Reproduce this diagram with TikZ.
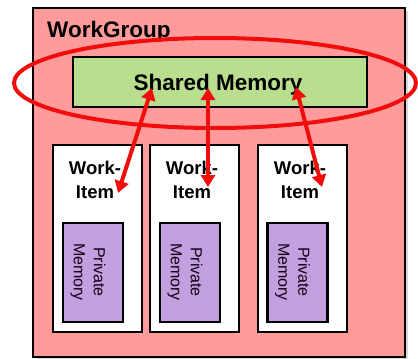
\documentclass[tikz,border=0pt]{standalone}
\usepackage{fontspec}
\setmainfont{Liberation Sans}
\usetikzlibrary{arrows.meta}
\definecolor{wgpink}{HTML}{FF9B9B}
\definecolor{shgreen}{HTML}{B9DE8E}
\definecolor{privpurple}{HTML}{C29FDF}
\definecolor{linkred}{HTML}{F20D0D}
\begin{document}
\begin{tikzpicture}[x=1pt,y=-1pt,
  groupbox/.style={draw=black,line width=2.5pt,fill=wgpink},
  sharedbox/.style={draw=black,line width=2.5pt,fill=shgreen,minimum width=294pt,minimum height=50pt,inner sep=0pt},
  itembox/.style={draw=black,line width=2.5pt,fill=white,minimum width=89pt,minimum height=187pt,inner sep=0pt},
  privbox/.style={draw=black,line width=2.5pt,fill=privpurple,minimum width=60pt,minimum height=99pt,inner sep=0pt},
  itemlabel/.style={font=\fontsize{18.5}{24}\selectfont\bfseries,align=center,inner sep=0pt,anchor=base},
  privlabel/.style={font=\fontsize{16}{20}\selectfont,text=black!85!violet,align=center,inner sep=0pt,rotate=-90},
  link/.style={linkred,line width=4pt,{Triangle[length=12pt,width=14pt]}-{Triangle[length=12pt,width=14pt]}}]
\useasboundingbox (0,0) rectangle (418,359);
\fill[white] (0,0) rectangle (418,359);

% work group
\fill[black!15] (36,11) rectangle (408,359);
\draw[groupbox] (33,8) rectangle (405,357);
\node[font=\fontsize{22.5}{26}\selectfont\bfseries,anchor=base west,inner sep=0pt] (wglabel) at (47,37) {WorkGroup};

% shared memory
\node[sharedbox] (shared) at (220,82) {};
\node[font=\fontsize{22.5}{26}\selectfont\bfseries,anchor=base,inner sep=0pt] (sharedlabel) at (218,90) {Shared Memory};

% work items with their private memory
\foreach \i/\cx/\px in {1/97.5/93, 2/194.5/190, 3/302.5/297.5}{
  \node[itembox] (wi\i) at (\cx,238.5) {};
  \node[itemlabel] (wit\i) at (\cx-2.5,198) {Work-\\Item};
  \node[privbox] (pm\i) at (\px,272.5) {};
  \node[privlabel] (pml\i) at (\px-5,272) {Private\\Memory};
}

% scope of the shared memory
\draw[linkred,line width=4pt] (215,83) ellipse [x radius=201pt,y radius=45pt];

% accesses between the shared memory and each work item
\coordinate (s1) at (152,88);
\coordinate (s2) at (208,88);
\coordinate (s3) at (296,87);
\coordinate (w1) at (118,193);
\coordinate (w2) at (208,187);
\coordinate (w3) at (322,187);
\draw[link] (s1) -- (w1);
\draw[link] (s2) -- (w2);
\draw[link] (s3) -- (w3);
\end{tikzpicture}
\end{document}
